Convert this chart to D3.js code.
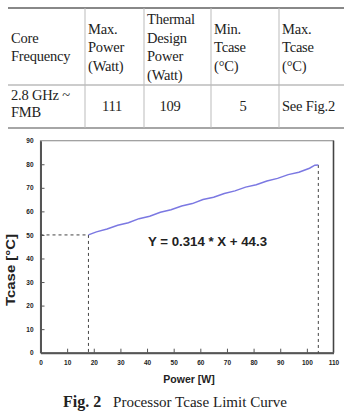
<!DOCTYPE html>
<html>
<head>
<meta charset="utf-8">
<script src="https://cdn.jsdelivr.net/npm/d3@7"></script>
<style>
  body { margin: 0; background: #fff; }
  .tbl { font-family: "Liberation Serif", serif; font-size: 14.5px; fill: #222; letter-spacing: -0.2px; }
  .tick { font-family: "Liberation Sans", Arial, sans-serif; font-size: 6.5px; font-weight: bold; fill: #222; }
</style>
</head>
<body>
<script>
const width = 344;
const height = 412;

// table content
const headers = [
  ["Core", "Frequency"],
  ["Max.", "Power", "(Watt)"],
  ["Thermal", "Design", "Power", "(Watt)"],
  ["Min.", "Tcase", "(\u00B0C)"],
  ["Max.", "Tcase", "(\u00B0C)"]
];
const rowValues = [["2.8 GHz ~", "FMB"], ["111"], ["109"], ["5"], ["See Fig.2"]];

// curve
const powerW = [18, 21, 25, 29, 33, 37, 41, 45, 49, 53, 57, 61, 65, 69, 73, 77, 81, 85, 89, 93, 97, 101, 103, 104.3];
const tcaseC = [50.0, 51.3, 52.5, 54.1, 55.2, 56.9, 57.9, 59.6, 60.7, 62.3, 63.3, 65.0, 66.0, 67.6, 68.7, 70.3, 71.3, 72.9, 74.0, 75.6, 76.6, 78.3, 79.6, 79.7];
const xTicks = [0, 10, 20, 30, 40, 50, 60, 70, 80, 90, 100, 110];
const yTicks = [0, 10, 20, 30, 40, 50, 60, 70, 80, 90];
const minPower = 18;
const maxPower = 104.3;

var svg = d3.select("body")
  .append("svg")
  .attr("width", width)
  .attr("height", height);

// ---- table ----
const colEdges = [8, 85, 144, 211, 279, 344];
const tableTop = 8, headBottom = 85, tableBottom = 128;

svg.append("line").attr("x1", 8).attr("x2", 344).attr("y1", tableTop).attr("y2", tableTop)
  .attr("stroke", "#888").attr("stroke-width", 2);
svg.append("line").attr("x1", 8).attr("x2", 344).attr("y1", headBottom).attr("y2", headBottom)
  .attr("stroke", "#999").attr("stroke-width", 1);
svg.append("line").attr("x1", 8).attr("x2", 344).attr("y1", tableBottom).attr("y2", tableBottom)
  .attr("stroke", "#888").attr("stroke-width", 1.5);

svg.selectAll("line.sep")
  .data(colEdges.slice(1, 5))
  .enter()
  .append("line")
  .attr("class", "sep")
  .attr("x1", d => d).attr("x2", d => d)
  .attr("y1", tableTop).attr("y2", tableBottom)
  .attr("stroke", "#bbb").attr("stroke-width", 1);

headers.forEach(function(lines, i) {
  var n = lines.length;
  lines.forEach(function(t, j) {
    svg.append("text")
      .attr("class", "tbl")
      .attr("x", colEdges[i] + 3)
      .attr("y", 52 + (j - (n - 1) / 2) * 18.5)
      .text(t);
  });
});

// data row: first and last left aligned, numbers centred
const valueCenters = [null, 112, 170, 243, null];
rowValues.forEach(function(lines, i) {
  lines.forEach(function(t, j) {
    var txt = svg.append("text")
      .attr("class", "tbl")
      .attr("y", lines.length > 1 ? 100 + j * 17 : 111)
      .text(t);
    if (valueCenters[i] === null) {
      txt.attr("x", colEdges[i] + 3);
    } else {
      txt.attr("x", valueCenters[i]).attr("text-anchor", "middle");
    }
  });
});

// ---- chart ----
const plot = { left: 40.5, right: 333.5, top: 140.7, bottom: 352.7 };

var x = d3.scaleLinear().domain([0, 110]).range([plot.left, plot.right]);
var y = d3.scaleLinear().domain([0, 90]).range([plot.bottom, plot.top]);

// frame
svg.append("rect")
  .attr("x", plot.left).attr("y", plot.top)
  .attr("width", plot.right - plot.left).attr("height", plot.bottom - plot.top)
  .attr("fill", "none").attr("stroke", "#999").attr("stroke-width", 1.2);
svg.append("line").attr("x1", plot.right).attr("x2", plot.right)
  .attr("y1", plot.top).attr("y2", plot.bottom).attr("stroke", "#444").attr("stroke-width", 1.5);

// axes with inward ticks
var yAxis = svg.append("g")
  .attr("transform", "translate(" + plot.left + ",0)")
  .call(d3.axisLeft(y).tickValues(yTicks).tickSizeInner(-4).tickSizeOuter(0).tickPadding(7));
var xAxis = svg.append("g")
  .attr("transform", "translate(0," + plot.bottom + ")")
  .call(d3.axisBottom(x).tickValues(xTicks).tickSizeInner(-4).tickSizeOuter(0).tickPadding(8));

[xAxis, yAxis].forEach(function(g) {
  g.select(".domain").attr("stroke", "#555").attr("stroke-width", 2);
  g.selectAll(".tick line").attr("stroke", "#555");
  g.selectAll(".tick text").attr("class", "tick").attr("font-size", null).attr("font-family", null);
});
xAxis.selectAll(".tick").filter(d => d === 0 || d === 110).select("line").remove();
yAxis.selectAll(".tick").filter(d => d === 0 || d === 90).select("line").remove();

// dashed guide lines
function dashed(x1, y1, x2, y2) {
  svg.append("line")
    .attr("x1", x(x1)).attr("y1", y(y1)).attr("x2", x(x2)).attr("y2", y(y2))
    .attr("stroke", "#444").attr("stroke-width", 1).attr("stroke-dasharray", "3,3");
}
dashed(0, tcaseC[0], minPower, tcaseC[0]);
dashed(minPower, tcaseC[0], minPower, 0);
dashed(maxPower, tcaseC[tcaseC.length - 1], maxPower, 0);

// curve
var line = d3.line()
  .x((d, i) => x(powerW[i]))
  .y(d => y(d));

svg.append("path")
  .datum(tcaseC)
  .attr("d", line)
  .attr("fill", "none")
  .attr("stroke", "#7b78e2")
  .attr("stroke-width", 1.5);

// equation
svg.append("text")
  .attr("x", 148).attr("y", 245.5)
  .attr("font-family", "Liberation Sans, Arial, sans-serif")
  .attr("font-size", 12).attr("font-weight", "bold").attr("fill", "#222")
  .attr("textLength", 119).attr("lengthAdjust", "spacingAndGlyphs")
  .text("Y = 0.314 * X + 44.3");

// axis titles
svg.append("text")
  .attr("transform", "translate(15,270) rotate(-90)")
  .attr("text-anchor", "middle")
  .attr("font-family", "Liberation Sans, Arial, sans-serif")
  .attr("font-size", 12).attr("font-weight", "bold").attr("fill", "#222")
  .attr("textLength", 72).attr("lengthAdjust", "spacingAndGlyphs")
  .text("Tcase [\u00B0C]");

svg.append("text")
  .attr("x", 189).attr("y", 383)
  .attr("text-anchor", "middle")
  .attr("font-family", "Liberation Sans, Arial, sans-serif")
  .attr("font-size", 10.5).attr("font-weight", "bold").attr("fill", "#222")
  .text("Power [W]");

// caption
var cap = svg.append("text")
  .attr("y", 407)
  .attr("font-family", "Liberation Serif, serif")
  .attr("font-size", 15).attr("fill", "#222");
cap.append("tspan").attr("x", 63).attr("font-weight", "bold").attr("font-size", 16).text("Fig. 2");
cap.append("tspan").attr("x", 113).attr("textLength", 174).attr("lengthAdjust", "spacingAndGlyphs")
  .text("Processor Tcase Limit Curve");
</script>
</body>
</html>
